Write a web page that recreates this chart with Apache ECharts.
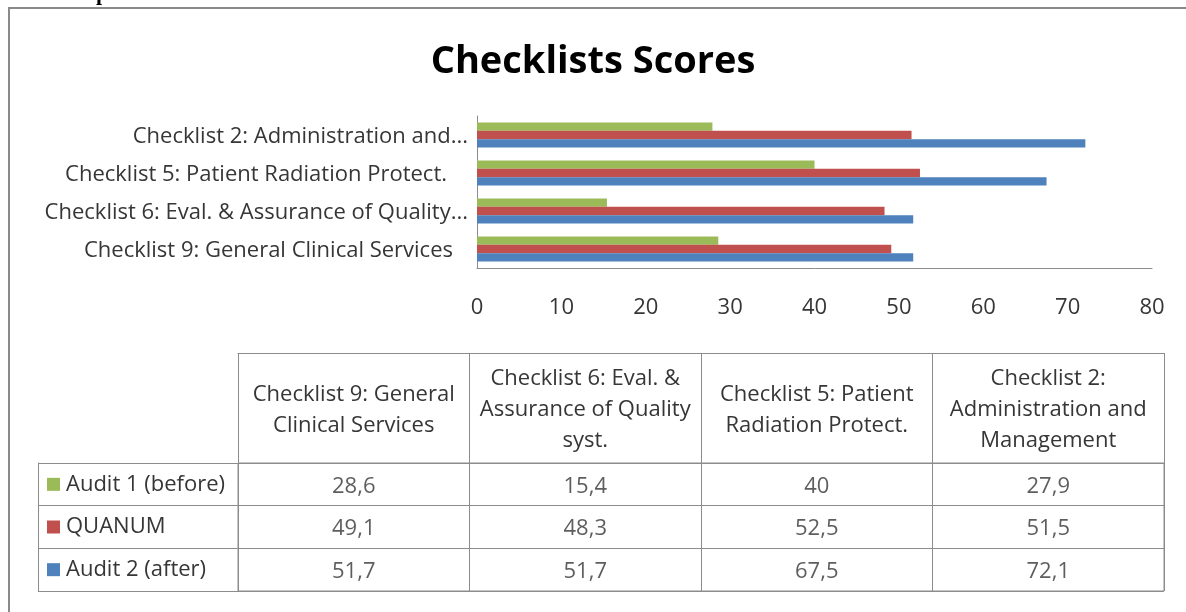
<!DOCTYPE html>
<html>
<head>
<meta charset="utf-8">
<script src="https://cdn.jsdelivr.net/npm/echarts@6/dist/echarts.min.js"></script>
<style>
html,body{margin:0;padding:0;background:#fff;}
#chart{width:1186px;height:612px;}
</style>
</head>
<body>
<div id="chart"></div>
<script>
// ---- data ----
const categories = [
  "Checklist 9: General Clinical Services",
  "Checklist 6: Eval. & Assurance of Quality syst.",
  "Checklist 5: Patient Radiation Protect.",
  "Checklist 2: Administration and Management"
];
const axisLabels = [
  "Checklist 9: General Clinical Services",
  "Checklist 6: Eval. & Assurance of Quality...",
  "Checklist 5: Patient Radiation Protect.",
  "Checklist 2: Administration and..."
];
const tableHeaders = [
  "Checklist 9: General\nClinical Services",
  "Checklist 6: Eval. &\nAssurance of Quality\nsyst.",
  "Checklist 5: Patient\nRadiation Protect.",
  "Checklist 2:\nAdministration and\nManagement"
];
const seriesNames = ["Audit 1 (before)", "QUANUM", "Audit 2 (after)"];
const audit1 = [28.6, 15.4, 40, 27.9];
const quanum = [49.1, 48.3, 52.5, 51.5];
const audit2 = [51.7, 51.7, 67.5, 72.1];
const xTicks = { min: 0, max: 80, interval: 10 };
const title = "Checklists Scores";
const pageCaption = "Graph 1";

// ---- styles ----
const colors = ["#9BBB59", "#C0504D", "#4F81BD"];
const FONT = "Open Sans";
const FS = 22;
const TXT = "#363636";
const LINE = "#8c8c8c";
const labelPad = [15, 0, 21, 0]; // extra right padding per y label (Excel placement)

const seriesValues = [audit1, quanum, audit2];

const barSeries = seriesNames.map((n, i) => ({
  name: n,
  type: 'bar',
  xAxisIndex: 0,
  yAxisIndex: 0,
  data: seriesValues[i],
  barWidth: 8.4,
  barGap: '0%',
  itemStyle: { color: colors[i] },
  silent: true
}));

const cellData = [];
seriesValues.forEach((arr, r) => arr.forEach((v, c) => cellData.push([c, r, v])));

const richLeg = {
  t: { fontFamily: FONT, fontSize: FS, color: TXT, padding: [0, 0, 0, 6] }
};
colors.forEach((c, i) => {
  richLeg['s' + i] = { width: 13, height: 13, backgroundColor: c };
});

const richY = {};
labelPad.forEach((p, i) => {
  richY['p' + i] = { fontFamily: FONT, fontSize: FS, color: TXT, padding: [4, p, 0, 0] };
});

const option = {
  backgroundColor: '#fff',
  animation: false,
  title: {
    text: title,
    left: 'center',
    top: 38,
    textStyle: { fontFamily: FONT, fontWeight: 'bold', fontSize: 38, color: '#000' }
  },
  graphic: [
    { type: 'rect', shape: { x: 9, y: 8, width: 1400, height: 900 },
      style: { fill: null, stroke: '#8a8a8a', lineWidth: 2 }, silent: true },
    { type: 'text', x: 58, y: -17,
      style: { text: pageCaption, font: 'bold 22px "Liberation Serif"', fill: '#000' }, silent: true }
  ],
  grid: [
    { left: 477, top: 116, width: 675, height: 152, containLabel: false },
    { left: 238, top: 463, width: 926, height: 128, show: true, borderColor: LINE, borderWidth: 1, containLabel: false }
  ],
  xAxis: [
    {
      gridIndex: 0, type: 'value', min: xTicks.min, max: xTicks.max, interval: xTicks.interval,
      axisLine: { show: true, lineStyle: { color: LINE } },
      axisTick: { show: false },
      splitLine: { show: false },
      axisLabel: { margin: 29, fontFamily: FONT, fontSize: FS, color: TXT }
    },
    {
      gridIndex: 1, type: 'category', data: tableHeaders, position: 'top',
      axisLine: { show: true, lineStyle: { color: LINE } },
      axisTick: { show: true, length: 110, interval: 0, alignWithLabel: false, lineStyle: { color: LINE } },
      splitLine: { show: true, interval: 0, lineStyle: { color: LINE } },
      axisLabel: { interval: 0, margin: 53, verticalAlign: 'middle', lineHeight: 31,
        fontFamily: FONT, fontSize: FS, color: TXT }
    },
    {
      gridIndex: 1, type: 'category', data: tableHeaders, position: 'top', offset: 110,
      axisLine: { show: true, lineStyle: { color: LINE } },
      axisTick: { show: false }, axisLabel: { show: false }, splitLine: { show: false }
    }
  ],
  yAxis: [
    {
      gridIndex: 0, type: 'category', data: axisLabels,
      axisLine: { show: true, lineStyle: { color: LINE } },
      axisTick: { show: false },
      splitLine: { show: false },
      axisLabel: {
        margin: 9, interval: 0,
        formatter: (v, i) => '{p' + i + '|' + v + '}',
        rich: richY
      }
    },
    {
      gridIndex: 1, type: 'category', data: seriesNames, inverse: true,
      axisLine: { show: true, lineStyle: { color: LINE } },
      axisTick: { show: true, length: 200, interval: 0, alignWithLabel: false, lineStyle: { color: LINE } },
      splitLine: { show: true, interval: 0, lineStyle: { color: LINE } },
      axisLabel: {
        interval: 0, margin: 191, align: 'left',
        formatter: (v, i) => '{s' + i + '|}{t|' + v + '}',
        rich: richLeg
      }
    },
    {
      gridIndex: 1, type: 'category', data: seriesNames, inverse: true, position: 'left', offset: 200,
      axisLine: { show: true, lineStyle: { color: LINE } },
      axisTick: { show: false }, axisLabel: { show: false }, splitLine: { show: false }
    }
  ],
  series: barSeries.concat([
    {
      type: 'scatter', xAxisIndex: 1, yAxisIndex: 1, data: cellData,
      symbolSize: 0, silent: true,
      label: {
        show: true, position: 'inside', offset: [0, 2],
        formatter: p => String(p.value[2]).replace('.', ','),
        fontFamily: FONT, fontSize: FS, color: TXT
      }
    }
  ])
};

const chart = echarts.init(document.getElementById('chart'), null, { renderer: 'canvas' });
chart.setOption(option);
</script>
</body>
</html>
